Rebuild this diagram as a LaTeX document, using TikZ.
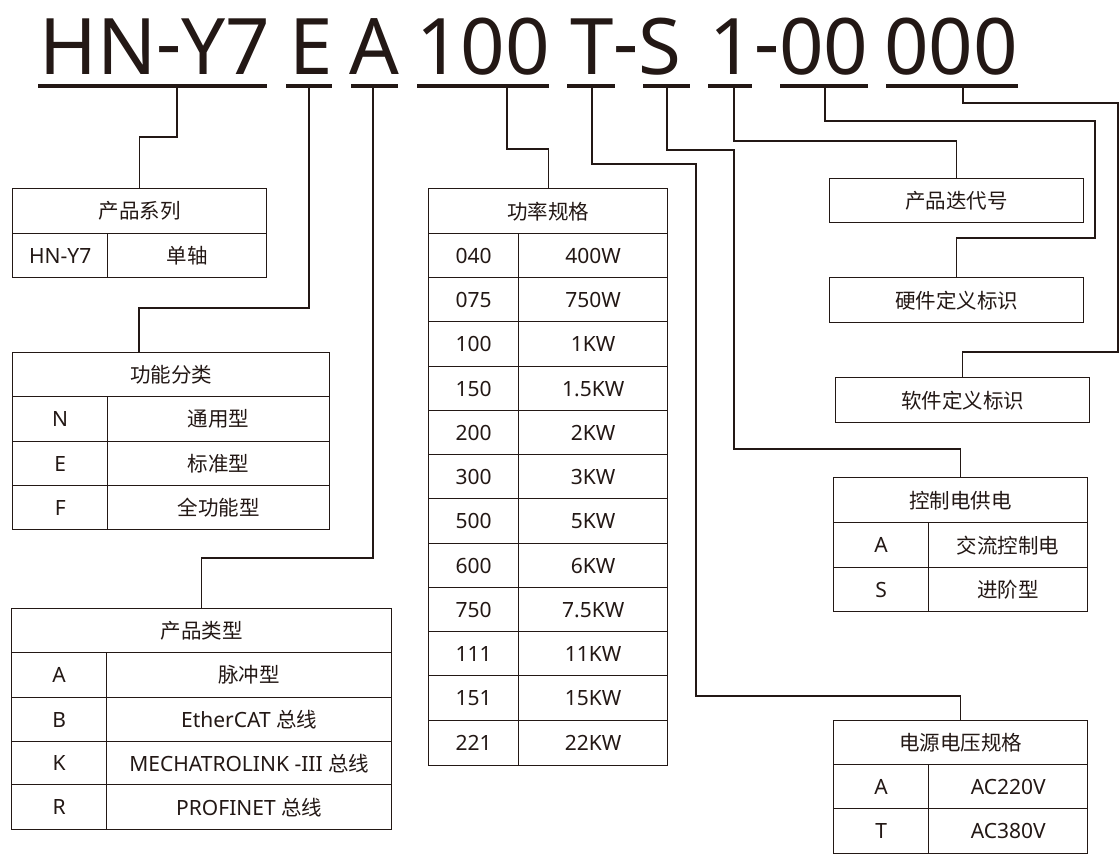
\documentclass[tikz,border=0pt]{standalone}
\usepackage{fontspec}
\setmainfont{Noto Sans}
\newfontfamily\cjkfont{Noto Sans CJK SC}
\usetikzlibrary{calc}
\definecolor{ink}{HTML}{231815}
\newcommand\zh[1]{{\cjkfont\fontsize{20.5}{24}\selectfont #1}}
\newcommand\dsh{\raisebox{4pt}{-}}
\newcommand\cellat[6]{\node[cell,minimum width=#4pt,minimum height=#5pt] (#1) at (#2,#3) {#6};}
\begin{document}
\begin{tikzpicture}[x=1pt,y=-1pt,
  cell/.style={draw=ink, line width=1.4pt, inner sep=0pt, anchor=north west, text=ink, font=\fontsize{21}{24}\selectfont},
  conn/.style={draw=ink, line width=1.3pt},
  uline/.style={draw=ink, line width=3.6pt},
  big/.style={anchor=base, inner sep=0pt, text=ink, font=\fontsize{78}{80}\selectfont}]
\useasboundingbox[fill=white] (0,0) rectangle (1120,854);

% ---- model code ----
\node[big] (tHN) at (155,74) {HN\dsh Y7};
\node[big] (tE) at (311,74) {E};
\node[big] (tA) at (374,74) {A};
\node[big] (t100) at (483,74) {100};
\node[big] (tTS) at (626,74) {T\dsh S};
\node[big] (t1) at (789,74) {1\dsh 00};
\node[big] (t000) at (951,74) {000};

\coordinate (uHNa) at (38,86);  \coordinate (uHNb) at (267,86);
\coordinate (uEa) at (286,86);  \coordinate (uEb) at (332,86);
\coordinate (uAa) at (351,86);  \coordinate (uAb) at (398,86);
\coordinate (uPa) at (417,86);  \coordinate (uPb) at (549,86);
\coordinate (uTa) at (567,86);  \coordinate (uTb) at (615,86);
\coordinate (uSa) at (643,86);  \coordinate (uSb) at (690,86);
\coordinate (u1a) at (708,86);  \coordinate (u1b) at (752,86);
\coordinate (u0a) at (780,86);  \coordinate (u0b) at (868,86);
\coordinate (uZa) at (886,86);  \coordinate (uZb) at (1018,86);
\foreach \n in {HN,E,A,P,T,S,1,0,Z}{\draw[uline] (u\n a) -- (u\n b);}

% connector start points on the underlines
\coordinate (cHN) at (177,87);
\coordinate (cE) at (309,87);
\coordinate (cA) at (373,87);
\coordinate (cP) at (507,87);
\coordinate (cT) at (592,87);
\coordinate (cS) at (667,87);
\coordinate (c1) at (734,87);
\coordinate (c0) at (825,87);
\coordinate (cZ) at (963,87);

% ---- 产品系列 ----
\cellat{sh}{12}{188}{254}{45}{\zh{产品系列}}
\cellat{sa}{12}{233}{95}{44}{HN-Y7}
\cellat{sb}{107}{233}{159}{44}{\zh{单轴}}

% ---- 功能分类 ----
\cellat{fh}{12}{352}{317}{44}{\zh{功能分类}}
\cellat{fa1}{12}{396}{95}{45}{N}
\cellat{fb1}{107}{396}{222}{45}{\zh{通用型}}
\cellat{fa2}{12}{441}{95}{44}{E}
\cellat{fb2}{107}{441}{222}{44}{\zh{标准型}}
\cellat{fa3}{12}{485}{95}{44}{F}
\cellat{fb3}{107}{485}{222}{44}{\zh{全功能型}}

% ---- 产品类型 ----
\cellat{ph}{11}{608}{380}{44}{\zh{产品类型}}
\cellat{pa1}{11}{652}{95}{45}{A}
\cellat{pb1}{106}{652}{285}{45}{\zh{脉冲型}}
\cellat{pa2}{11}{697}{95}{44}{B}
\cellat{pb2}{106}{697}{285}{44}{EtherCAT \zh{总线}}
\cellat{pa3}{11}{741}{95}{43}{K}
\cellat{pb3}{106}{741}{285}{43}{MECHATROLINK -III \zh{总线}}
\cellat{pa4}{11}{784}{95}{45}{R}
\cellat{pb4}{106}{784}{285}{45}{PROFINET \zh{总线}}

% ---- 功率规格 ----
\cellat{wh}{428}{188}{239}{45}{\zh{功率规格}}
\foreach \i/\y/\h/\c/\v in {0/233/44/040/400W,1/277/44/075/750W,2/321/45/100/1KW,3/366/44/150/1.5KW,4/410/44/200/2KW,5/454/44/300/3KW,6/498/45/500/5KW,7/543/44/600/6KW,8/587/44/750/7.5KW,9/631/44/111/11KW,10/675/45/151/15KW,11/720/45/221/22KW}{
  \node[cell,minimum width=90pt,minimum height=\h pt] (wa\i) at (428,\y) {\c};
  \node[cell,minimum width=149pt,minimum height=\h pt] (wb\i) at (518,\y) {\v};
}

% ---- right column boxes ----
\cellat{iter}{829}{178}{254}{44}{\zh{产品迭代号}}
\cellat{hw}{829}{277}{254}{45}{\zh{硬件定义标识}}
\cellat{sw}{835}{377}{254}{45}{\zh{软件定义标识}}

% ---- 控制电供电 ----
\cellat{kh}{833}{477}{254}{45}{\zh{控制电供电}}
\cellat{ka1}{833}{522}{95}{45}{A}
\cellat{kb1}{928}{522}{159}{45}{\zh{交流控制电}}
\cellat{ka2}{833}{567}{95}{44}{S}
\cellat{kb2}{928}{567}{159}{44}{\zh{进阶型}}

% ---- 电源电压规格 ----
\cellat{vh}{833}{720}{254}{44}{\zh{电源电压规格}}
\cellat{va1}{833}{764}{95}{44}{A}
\cellat{vb1}{928}{764}{159}{44}{AC220V}
\cellat{va2}{833}{808}{95}{44.5}{T}
\cellat{vb2}{928}{808}{159}{44.5}{AC380V}

% ---- connectors ----
\draw[conn] (cHN) -- (177,137) -| (sh.north);
\draw[conn] (cE) -- (309,308) -| ($(fh.north west)+(127,0)$);
\draw[conn] (cA) -- (373,558) -| (ph.north);
\draw[conn] (cP) -- (507,149) -| (wh.north);
\draw[conn] (cT) -- (592,164) -- (696,164) -- (696,696) -| (vh.north);
\draw[conn] (cS) -- (667,150) -- (734,150) -- (734,449) -| (kh.north);
\draw[conn] (c1) -- (734,141) -| (iter.north);
\draw[conn] (c0) -- (825,121) -- (1095,121) -- (1095,238) -| (hw.north);
\draw[conn] (cZ) -- (963,103) -- (1118,103) -- (1118,352) -| (sw.north);
\end{tikzpicture}
\end{document}
